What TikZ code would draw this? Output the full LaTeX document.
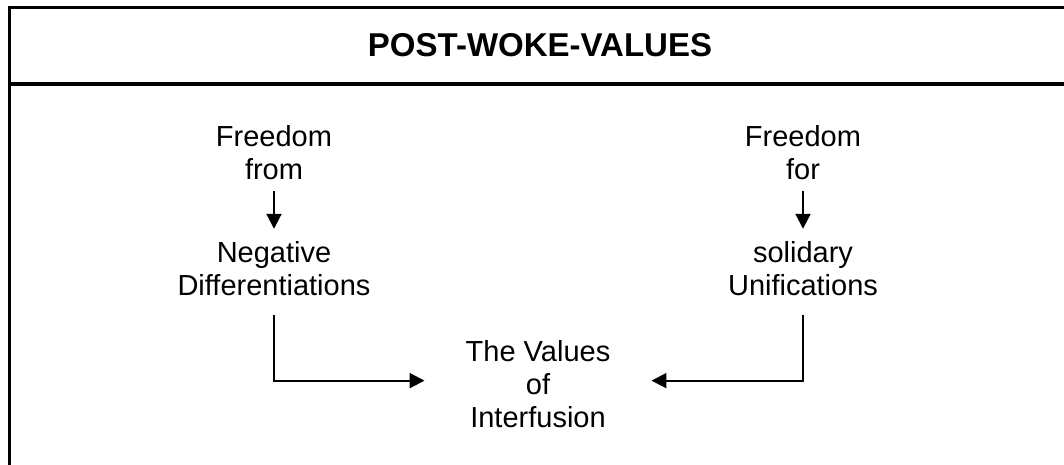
\documentclass[tikz,border=0pt]{standalone}
\usepackage{fontspec}
\setmainfont{Liberation Sans}
\usetikzlibrary{arrows.meta}
\begin{document}
\begin{tikzpicture}[x=1pt,y=-1pt,
  frame/.style={line width=3.5pt, line join=miter},
  lbl/.style={font=\fontsize{29}{33}\selectfont, align=center, inner xsep=0pt, inner ysep=12pt},
  ttl/.style={font=\bfseries\fontsize{33}{38}\selectfont, inner sep=0pt},
  conn/.style={line width=2pt, -{Triangle[length=15pt,width=15pt]}}]
\useasboundingbox (0,0) rectangle (1064,465);
\draw[frame] (9.5,470) -- (9.5,7.5) -- (1070,7.5);
\draw[frame] (7.75,84) -- (1070,84);
\node[ttl, anchor=base] (title) at (540,56.7) {POST-WOKE-VALUES};
\node[lbl, anchor=base] (ff) at (274,179) {Freedom\\from};
\node[lbl, anchor=base] (neg) at (274,295) {Negative\\Differentiations};
\node[lbl, anchor=base] (fr) at (803,179) {Freedom\\for};
\node[lbl, anchor=base] (sol) at (803,295) {solidary\\Unifications};
\node[lbl, anchor=base, inner xsep=41pt] (val) at (538,427) {The Values\\of\\Interfusion};
\draw[conn] (ff) -- (neg);
\draw[conn] (fr) -- (sol);
\draw[conn, shorten <=8pt] (neg.south) |- ([yshift=3pt]val.west);
\draw[conn, shorten <=8pt] (sol.south) |- ([yshift=3pt]val.east);
\end{tikzpicture}
\end{document}
